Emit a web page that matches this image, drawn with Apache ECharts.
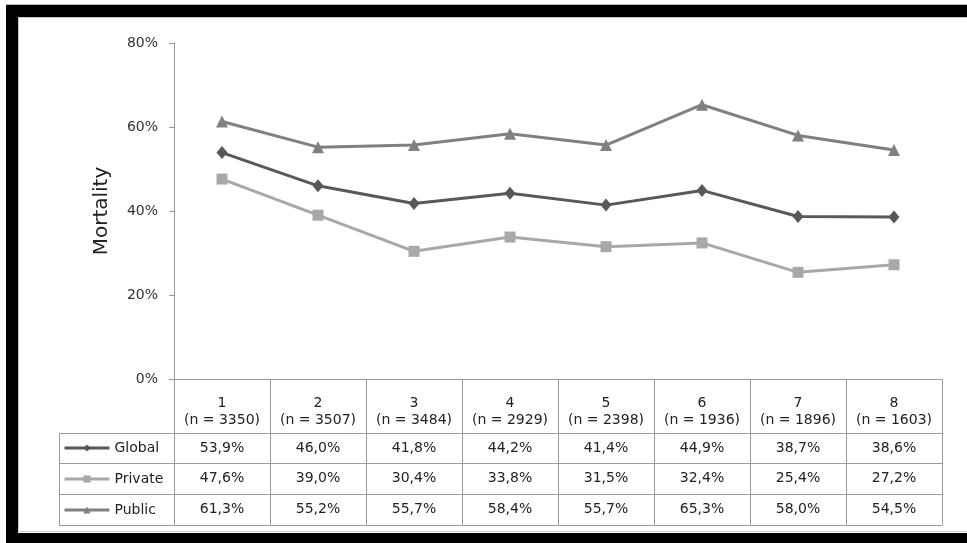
<!DOCTYPE html>
<html>
<head>
<meta charset="utf-8">
<script src="https://cdn.jsdelivr.net/npm/echarts@6/dist/echarts.min.js"></script>
<style>
  html, body { margin: 0; padding: 0; background: #fff; }
  #chartBox { width: 967px; height: 543px; }
</style>
</head>
<body>
<div id="chartBox"></div>
<script>
// data (percent)
const periods = ['1', '2', '3', '4', '5', '6', '7', '8']
const counts = [3350, 3507, 3484, 2929, 2398, 1936, 1896, 1603]
const globalData = [53.9, 46.0, 41.8, 44.2, 41.4, 44.9, 38.7, 38.6]
const privateData = [47.6, 39.0, 30.4, 33.8, 31.5, 32.4, 25.4, 27.2]
const publicData = [61.3, 55.2, 55.7, 58.4, 55.7, 65.3, 58.0, 54.5]
const yTicks = [0, 20, 40, 60, 80]

const fontFamily = 'DejaVu Sans'
const textColor = '#222'
const lineColor = '#9a9a9a'

const categories = periods.map((p, i) => p + '\n(n = ' + counts[i] + ')')
const fmt = v => v.toFixed(1).replace('.', ',') + '%'

// one table row = one extra category axis under the grid
function rowAxis(values, offset, height) {
  return {
    type: 'category',
    position: 'bottom',
    offset: offset,
    data: values.map(fmt),
    boundaryGap: true,
    axisLine: { show: true, lineStyle: { color: lineColor } },
    axisTick: { show: true, interval: 0, length: height, lineStyle: { color: lineColor } },
    axisLabel: {
      show: true, interval: 0, margin: height / 2, verticalAlign: 'middle',
      color: textColor, fontFamily: fontFamily, fontSize: 14
    }
  }
}

function legendLines() {
  const ys = [433, 463, 494, 525]
  const out = ys.map(y => ({
    type: 'line', silent: true,
    shape: { x1: 59, y1: y + 0.5, x2: 174, y2: y + 0.5 },
    style: { stroke: lineColor, lineWidth: 1 }
  }))
  out.push({
    type: 'line', silent: true,
    shape: { x1: 59.5, y1: 433, x2: 59.5, y2: 526 },
    style: { stroke: lineColor, lineWidth: 1 }
  })
  return out
}

const chart = echarts.init(document.getElementById('chartBox'))
chart.setOption({
  animation: false,
  textStyle: { fontFamily: fontFamily },
  color: ['#585858', '#a8a8a8', '#808080'],
  legend: {
    orient: 'vertical',
    left: 58,
    top: 436,
    padding: 5,
    itemWidth: 45,
    itemHeight: 9,
    itemGap: 17,
    lineStyle: { width: 3 },
    data: ['Global', 'Private', 'Public'],
    textStyle: { color: textColor, fontSize: 14, lineHeight: 14, fontFamily: fontFamily }
  },
  grid: { left: 174, right: 25, top: 43, bottom: 164, containLabel: false },
  xAxis: [
    {
      type: 'category',
      position: 'bottom',
      data: categories,
      boundaryGap: true,
      axisLine: { show: true, lineStyle: { color: lineColor } },
      axisTick: { show: true, interval: 0, length: 54, lineStyle: { color: lineColor } },
      axisLabel: {
        interval: 0, margin: 33, verticalAlign: 'middle', lineHeight: 17,
        color: textColor, fontFamily: fontFamily, fontSize: 14
      }
    },
    rowAxis(globalData, 54, 30),
    rowAxis(privateData, 84, 31),
    rowAxis(publicData, 115, 31),
    {
      type: 'category',
      position: 'bottom',
      offset: 146,
      data: periods,
      axisLine: { show: true, lineStyle: { color: lineColor } },
      axisTick: { show: false },
      axisLabel: { show: false }
    }
  ],
  yAxis: {
    type: 'value',
    min: yTicks[0],
    max: yTicks[yTicks.length - 1],
    interval: 20,
    name: 'Mortality',
    nameLocation: 'middle',
    nameGap: 62,
    nameTextStyle: { color: textColor, fontSize: 20, fontFamily: fontFamily },
    axisLine: { show: true, lineStyle: { color: lineColor } },
    axisTick: { show: true, length: 5, lineStyle: { color: lineColor } },
    splitLine: { show: false },
    axisLabel: {
      margin: 16,
      color: '#333',
      fontSize: 14,
      fontFamily: fontFamily,
      formatter: v => v + '%'
    }
  },
  graphic: [
    { type: 'rect', silent: true, shape: { x: 6, y: 4, width: 961, height: 1 }, style: { fill: '#bdbdbd' } },
    { type: 'rect', silent: true, shape: { x: 6, y: 5, width: 961, height: 12 }, style: { fill: '#000' } },
    { type: 'rect', silent: true, shape: { x: 6, y: 5, width: 12, height: 538 }, style: { fill: '#000' } },
    { type: 'rect', silent: true, shape: { x: 6, y: 533, width: 961, height: 10 }, style: { fill: '#000' } },
    { type: 'rect', silent: true, shape: { x: 18, y: 17, width: 949, height: 1 }, style: { fill: '#c8c8c8' } },
    { type: 'rect', silent: true, shape: { x: 18, y: 17, width: 1, height: 515 }, style: { fill: '#c8c8c8' } },
    { type: 'rect', silent: true, shape: { x: 18, y: 531, width: 949, height: 1 }, style: { fill: '#c8c8c8' } }
  ].concat(legendLines()),
  series: [
    {
      name: 'Global',
      type: 'line',
      data: globalData,
      symbol: 'diamond',
      symbolSize: [11, 13],
      lineStyle: { width: 3 }
    },
    {
      name: 'Private',
      type: 'line',
      data: privateData,
      symbol: 'rect',
      symbolSize: 11,
      lineStyle: { width: 3 }
    },
    {
      name: 'Public',
      type: 'line',
      data: publicData,
      symbol: 'triangle',
      symbolSize: 12,
      lineStyle: { width: 3 }
    }
  ]
})
</script>
</body>
</html>
